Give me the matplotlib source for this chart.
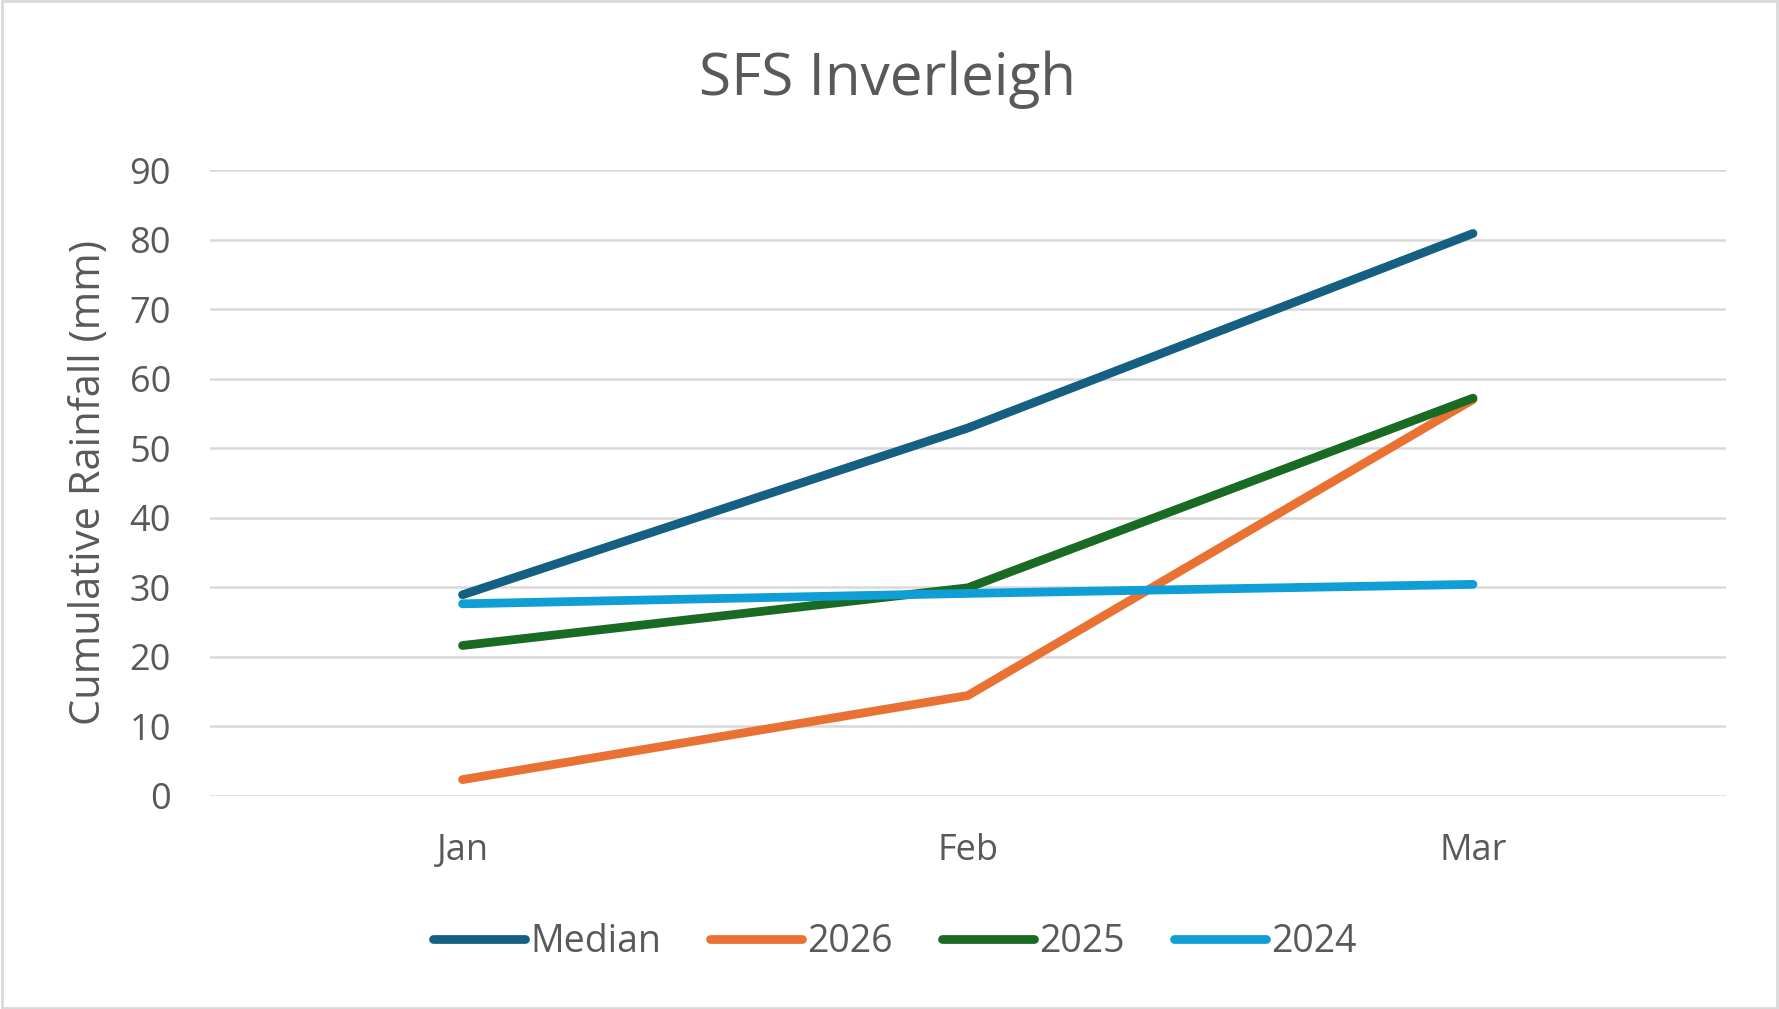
import matplotlib
matplotlib.use("Agg")
import matplotlib.pyplot as plt
from matplotlib.patches import Rectangle

categories = ["Jan", "Feb", "Mar"]
median = [28.9, 52.9, 80.9]
y2026 = [2.3, 14.4, 57.0]
y2025 = [21.6, 29.9, 57.2]
y2024 = [27.6, 29.1, 30.4]
series_names = ["Median", "2026", "2025", "2024"]
colors = ["#156082", "#E97132", "#196B24", "#0F9ED5"]

plt.rcParams['font.family'] = ['Open Sans', 'DejaVu Sans']
text_color = "#595959"

fig = plt.figure(figsize=(17.79, 10.09), dpi=100)
ax = fig.add_axes([0.118, 0.2115, 0.852, 0.6198])

x = [i + 0.5 for i in range(len(categories))]
for vals, name, c in zip([median, y2026, y2025, y2024], series_names, colors):
    ax.plot(x, vals, color=c, lw=6.3, solid_capstyle="round", solid_joinstyle="round", label=name)

ax.set_xlim(0, 3)
ax.set_ylim(0, 90)
ax.set_yticks(range(0, 91, 10))
ax.set_xticks(x)
ax.set_xticklabels(categories)
ax.grid(axis="y", color="#D9D9D9", lw=1.8)
ax.set_axisbelow(True)
for s in ax.spines.values():
    s.set_visible(False)
ax.tick_params(axis="both", length=0, labelsize=26, labelcolor=text_color)
ax.tick_params(axis="y", pad=28)
ax.tick_params(axis="x", pad=27)
ax.set_ylabel("Cumulative Rainfall (mm)", fontsize=30, color=text_color, labelpad=14)

fig.text(0.4987, 0.921, "SFS Inverleigh", ha="center", va="center", fontsize=42, color=text_color)

leg = fig.legend(loc="center", bbox_to_anchor=(0.503, 0.066), ncol=4, frameon=False,
                 fontsize=27, handlelength=2.45, handletextpad=0.15, columnspacing=1.3,
                 labelcolor=text_color)

fig.patches.append(Rectangle((0.001, 0.001), 0.998, 0.998, transform=fig.transFigure,
                             fill=False, edgecolor="#D9D9D9", lw=2))

fig.savefig("out.png", dpi=100, facecolor="white")
